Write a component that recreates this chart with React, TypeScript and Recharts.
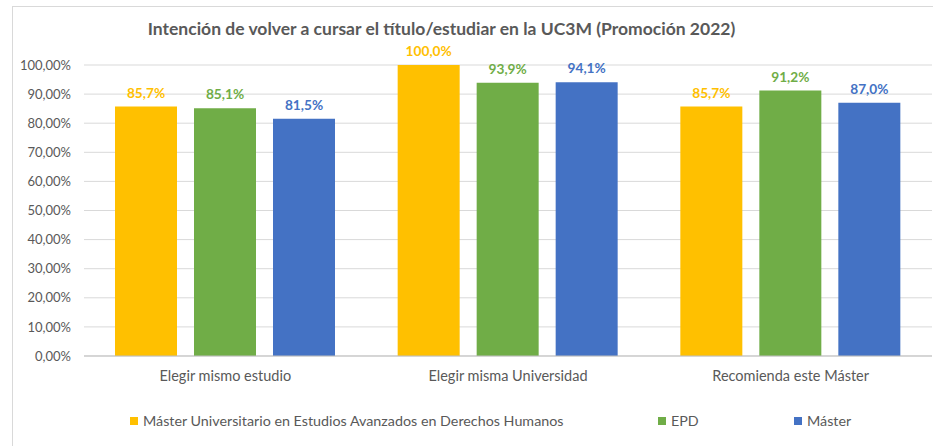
import { BarChart, Bar, XAxis, YAxis, CartesianGrid, LabelList } from 'recharts';

const categories = ['Elegir mismo estudio', 'Elegir misma Universidad', 'Recomienda este Máster'];
const masterDDHH = [85.7, 100.0, 85.7];
const epd = [85.1, 93.9, 91.2];
const master = [81.5, 94.1, 87.0];
const yTicks = [0, 10, 20, 30, 40, 50, 60, 70, 80, 90, 100];

const SERIES = [
  { key: 'ddhh', name: 'Máster Universitario en Estudios Avanzados en Derechos Humanos', color: '#ffc000', legendLeft: 117 },
  { key: 'epd', name: 'EPD', color: '#70ad47', legendLeft: 645 },
  { key: 'master', name: 'Máster', color: '#4472c4', legendLeft: 781 },
];

const data = categories.map((c, i) => ({
  name: c,
  ddhh: masterDDHH[i],
  epd: epd[i],
  master: master[i],
}));

const FONT = 'Lato, "Open Sans", sans-serif';
const TEXT = '#595959';

const fmtLabel = (v: any) => Number(v).toFixed(1).replace('.', ',') + '%';
const fmtTick = (v: any) => Number(v).toFixed(2).replace('.', ',') + '%';

const App = () => {
  return (
    <div
      style={{
        position: 'absolute',
        left: 12,
        top: 6,
        width: 921,
        height: 440,
        boxSizing: 'border-box',
        borderTop: '1px solid #d9d9d9',
        borderLeft: '1px solid #d9d9d9',
        background: '#fff',
        fontFamily: FONT,
        overflow: 'hidden',
      }}
    >
      <div
        style={{
          position: 'absolute',
          left: 0,
          width: 857,
          top: 11,
          textAlign: 'center',
          fontSize: 17.5,
          fontWeight: 'bold',
          color: TEXT,
          whiteSpace: 'nowrap',
        }}
      >
        Intención de volver a cursar el título/estudiar en la UC3M (Promoción 2022)
      </div>
      <div style={{ position: 'absolute', left: -1, top: 0 }}>
        <BarChart
          width={921}
          height={440}
          data={data}
          margin={{ top: 58, right: 1, bottom: 61, left: 12 }}
          barCategoryGap={31}
          barGap={17}
        >
          <CartesianGrid vertical={false} stroke="#d9d9d9" />
          <XAxis
            dataKey="name"
            height={30}
            tickLine={false}
            tickSize={0}
            tickMargin={15}
            axisLine={{ stroke: '#bfbfbf' }}
            tick={{ fill: TEXT, fontSize: 14.5, fontFamily: FONT }}
          />
          <YAxis
            width={60}
            domain={[0, 100]}
            ticks={yTicks}
            interval={0}
            tickFormatter={fmtTick}
            tickLine={false}
            axisLine={false}
            tickSize={0}
            tickMargin={13}
            tick={{ fill: TEXT, fontSize: 13, fontFamily: FONT }}
          />
          {SERIES.map((s) => (
            <Bar key={s.key} dataKey={s.key} name={s.name} fill={s.color} isAnimationActive={false}>
              <LabelList
                dataKey={s.key}
                position="top"
                offset={9}
                formatter={fmtLabel}
                style={{ fill: s.color, fontSize: 13.7, fontWeight: 'bold', fontFamily: FONT }}
              />
            </Bar>
          ))}
        </BarChart>
      </div>
      {SERIES.map((s) => (
        <div
          key={s.key}
          style={{
            position: 'absolute',
            left: s.legendLeft,
            top: 405,
            display: 'flex',
            alignItems: 'center',
            fontSize: 14.3,
            lineHeight: '17px',
            color: TEXT,
            whiteSpace: 'nowrap',
          }}
        >
          <span style={{ display: 'inline-block', width: 8, height: 8, background: s.color, marginRight: 5 }} />
          {s.name}
        </div>
      ))}
    </div>
  );
};

export default App;
